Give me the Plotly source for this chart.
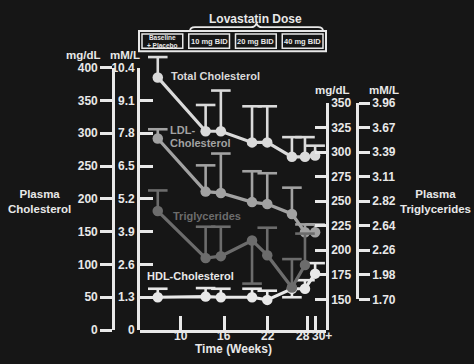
import plotly.graph_objects as go

W, H = 474, 364

# ---- data -------------------------------------------------------------
WEEKS = [6.8, 13.4, 15.5, 19.8, 21.9, 25.3, 27.1, 28.5]
TICK_WEEKS = [10, 16, 22, 27.4, 28.5]
TICK_TEXT = ["10", "16", "22", "28", "30+"]

TOTAL_CHOL = [385, 303, 303, 286, 286, 264, 264, 266]
TOTAL_ERR_UP = [31, 40, 62, 55, 55, 30, 30, 15]

LDL_CHOL = [292, 211, 209, 195, 192, 177, 149, 149]
LDL_ERR_UP = [14, 40, 60, 47, 47, 40, 12, 12]

HDL_CHOL = [50, 51, 50, 50, 46, 63, 63, 86]
HDL_ERR_UP = [13, 13, 13, 13, 14, 0, 13, 16]
HDL_ERR_DOWN = [0, 0, 0, 0, 0, 13, 0, 0]

TRIG = [240, 192, 194, 210, 195, 162, 185]
TRIG_ERR_UP = [21, 32, 30, 0, 28, 29, 32]
TRIG_ERR_DOWN = [0, 0, 0, 44, 0, 0, 0]

CHOL_TICKS_MG = [0, 50, 100, 150, 200, 250, 300, 350, 400]
CHOL_TICKS_MMOL = ["0", "1.3", "2.6", "3.9", "5.2", "6.5", "7.8", "9.1", "10.4"]
TRIG_TICKS_MG = [150, 175, 200, 225, 250, 275, 300, 325, 350]
TRIG_TICKS_MMOL = ["1.70", "1.98", "2.26", "2.64", "2.82", "3.11", "3.39", "3.67", "3.96"]

DOSE_BOXES = ["Baseline<br>+ Placebo", "10 mg BID", "20 mg BID", "40 mg BID"]

CHOL_F = 400 / 10.4    # mg/dL per mmol/L (cholesterol)
TRIG_F = 88.3          # mg/dL per mmol/L (triglycerides)

# ---- styling ----------------------------------------------------------
BG = "#161616"
FG = "#e8e8e8"
C_TOTAL = "#dadada"
C_HDL = "#e8e8e8"
C_LDL = "#a2a2a2"
C_TRIG = "#6c6c6c"
FONT = "Liberation Sans, Arial, sans-serif"


def fx(x):
    return x / W


def fy(y):
    return 1 - y / H


fig = go.Figure()


def add_series(x, y, up, down, color, yaxis):
    sx, sy, cx, cy = [], [], [], []
    for xi, yi, u, d in zip(x, y, up, down):
        sx += [xi, xi, None]
        sy += [yi - d, yi + u, None]
        if u > 0:
            cx.append(xi)
            cy.append(yi + u)
        if d > 0:
            cx.append(xi)
            cy.append(yi - d)
    fig.add_trace(go.Scatter(x=sx, y=sy, mode="lines", yaxis=yaxis,
                             line=dict(color=color, width=2.6),
                             hoverinfo="skip", showlegend=False))
    fig.add_trace(go.Scatter(x=cx, y=cy, mode="markers", yaxis=yaxis,
                             marker=dict(symbol="line-ew", size=14,
                                         line=dict(color=color, width=2.6)),
                             hoverinfo="skip", showlegend=False, cliponaxis=False))
    fig.add_trace(go.Scatter(x=x, y=y, mode="lines+markers", yaxis=yaxis,
                             line=dict(color=color, width=3.2),
                             marker=dict(size=10.5, color=color),
                             showlegend=False, cliponaxis=False))


zeros = [0] * len(WEEKS)
add_series(WEEKS[:len(TRIG)], TRIG, TRIG_ERR_UP, TRIG_ERR_DOWN, C_TRIG, "y4")
add_series(WEEKS, LDL_CHOL, LDL_ERR_UP, zeros, C_LDL, "y")
add_series(WEEKS, HDL_CHOL, HDL_ERR_UP, HDL_ERR_DOWN, C_HDL, "y")
add_series(WEEKS, TOTAL_CHOL, TOTAL_ERR_UP, zeros, C_TOTAL, "y")

# unit-converted copies (transparent) so the mM/L scales carry data
fig.add_trace(go.Scatter(x=WEEKS, y=[v / CHOL_F for v in TOTAL_CHOL], yaxis="y2",
                         mode="markers", opacity=0, hoverinfo="skip", showlegend=False))
fig.add_trace(go.Scatter(x=WEEKS, y=TOTAL_CHOL, yaxis="y3",
                         mode="markers", opacity=0, hoverinfo="skip", showlegend=False))
fig.add_trace(go.Scatter(x=WEEKS[:len(TRIG)], y=[v / TRIG_F for v in TRIG], yaxis="y5",
                         mode="markers", opacity=0, hoverinfo="skip", showlegend=False))

axis_common = dict(showgrid=False, zeroline=False, showline=True, linecolor=FG,
                   linewidth=2.6, tickcolor=FG, tickwidth=2.6,
                   tickfont=dict(family=FONT, size=12, color=FG, weight="bold"))

px_per_mg_chol = (336 - 63) / 400
px_per_mg_trig = (304 - 100) / 200

fig.update_layout(
    width=W, height=H,
    margin=dict(l=0, r=0, t=0, b=0),
    paper_bgcolor=BG, plot_bgcolor="rgba(0,0,0,0)",
    showlegend=False,
    xaxis=dict(domain=[fx(140), fx(326)], range=[4.35, 30.0], anchor="y",
               tickmode="array", tickvals=TICK_WEEKS, showticklabels=False,
               ticks="inside", ticklen=14, **axis_common),
    # cholesterol data scale (mg/dL), hidden; same pixel scale as the drawn axis
    yaxis=dict(domain=[fy(336), fy(30)], range=[0, (336 - 30) / px_per_mg_chol],
               visible=False, showgrid=False, zeroline=False),
    # left mM/L axis
    yaxis2=dict(domain=[fy(336), fy(63)], range=[0, 400 / CHOL_F], anchor="x",
                side="left", tickmode="array",
                tickvals=[v / CHOL_F for v in CHOL_TICKS_MG], ticktext=CHOL_TICKS_MMOL,
                ticks="inside", ticklen=13, **axis_common),
    # left mg/dL axis
    yaxis3=dict(overlaying="y2", anchor="free", position=fx(113), side="left",
                range=[0, 400], tickmode="array", tickvals=CHOL_TICKS_MG,
                ticks="outside", ticklen=12, **axis_common),
    # right mg/dL axis (triglycerides data scale)
    yaxis4=dict(domain=[fy(336), fy(100)],
                range=[150 - (336 - 304) / px_per_mg_trig, 350],
                anchor="x", side="right", tickmode="array", tickvals=TRIG_TICKS_MG,
                ticks="inside", ticklen=11, **axis_common),
    # right mM/L axis
    yaxis5=dict(domain=[fy(304), fy(100)], range=[150 / TRIG_F, 350 / TRIG_F],
                anchor="free", position=fx(357), side="right", tickmode="array",
                tickvals=[v / TRIG_F for v in TRIG_TICKS_MG], ticktext=TRIG_TICKS_MMOL,
                ticks="outside", ticklen=11, **axis_common),
)

annotations = []


def note(text, x, y, size=12, color=FG, xanchor="center", xref="paper",
         yanchor="middle"):
    annotations.append(dict(text=text, x=x, y=y, xref=xref, yref="paper",
                            xanchor=xanchor, yanchor=yanchor, showarrow=False,
                            borderpad=0,
                            font=dict(family=FONT, size=size, color=color, weight="bold")))


# time tick labels (the last two ticks sit close together)
for wk, txt in zip(TICK_WEEKS[:3], TICK_TEXT[:3]):
    note(txt, wk, fy(342), xref="x")
mid = (TICK_WEEKS[3] + TICK_WEEKS[4]) / 2
note(TICK_TEXT[3], mid, fy(342), xanchor="right", xref="x")
note(TICK_TEXT[4], mid, fy(342), xanchor="left", xref="x")

note("Time (Weeks)", fx(233), 0, yanchor="bottom")
note("mg/dL", fx(83), fy(50), size=11.5)
note("mM/L", fx(125), fy(50), size=11.5)
note("mg/dL", fx(332), fy(86), size=11.5)
note("mM/L", fx(384), fy(86), size=11.5)
note("Plasma<br>Cholesterol", fx(39), fy(202), size=11.5)
note("Plasma<br>Triglycerides", fx(435), fy(202), size=11.5)

note("Total Cholesterol", fx(170), fy(72), size=11, color=C_TOTAL, xanchor="left")
note("LDL-", fx(169), fy(128), size=11, color=C_LDL, xanchor="left")
note("Cholesterol", fx(169), fy(141), size=11, color=C_LDL, xanchor="left")
note("Triglycerides", fx(172), fy(217), size=11, color=C_TRIG, xanchor="left")
note("HDL-Cholesterol", fx(146), fy(280), size=11, color=C_HDL, xanchor="left")

# dose header
note("Lovastatin Dose", fx(255), fy(12), size=12)

shapes = []
box_l, box_r, box_t, box_b = 139, 326, 25, 46
shapes.append(dict(type="rect", xref="paper", yref="paper",
                   x0=fx(box_l), x1=fx(box_r), y0=fy(box_b), y1=fy(box_t),
                   line=dict(color=FG, width=2)))
step = (box_r - box_l) / len(DOSE_BOXES)
for i, label in enumerate(DOSE_BOXES):
    l = box_l + i * step + 3
    r = box_l + (i + 1) * step - 3
    shapes.append(dict(type="rect", xref="paper", yref="paper",
                       x0=fx(l), x1=fx(r), y0=fy(box_b - 3), y1=fy(box_t + 3),
                       line=dict(color=FG, width=1.5)))
    note(label, fx((l + r) / 2), fy((box_t + box_b) / 2),
         size=6.5 if "<br>" in label else 7.5)

# brace over the three dose boxes
brace_pts = [("M", 190, 25), ("Q", 190, 21, 195, 21), ("L", 251, 21),
             ("Q", 255, 21, 256.5, 17), ("Q", 258, 21, 262, 21), ("L", 318, 21),
             ("Q", 323, 21, 323, 25)]
parts = []
for p in brace_pts:
    cmd, coords = p[0], p[1:]
    xy = []
    for j in range(0, len(coords), 2):
        xy.append(f"{fx(coords[j]):.5f},{fy(coords[j + 1]):.5f}")
    parts.append(cmd + " ".join(xy))
shapes.append(dict(type="path", xref="paper", yref="paper", path=" ".join(parts),
                   line=dict(color=FG, width=1.8)))

fig.update_layout(annotations=annotations, shapes=shapes)

fig.write_html("out.html")
